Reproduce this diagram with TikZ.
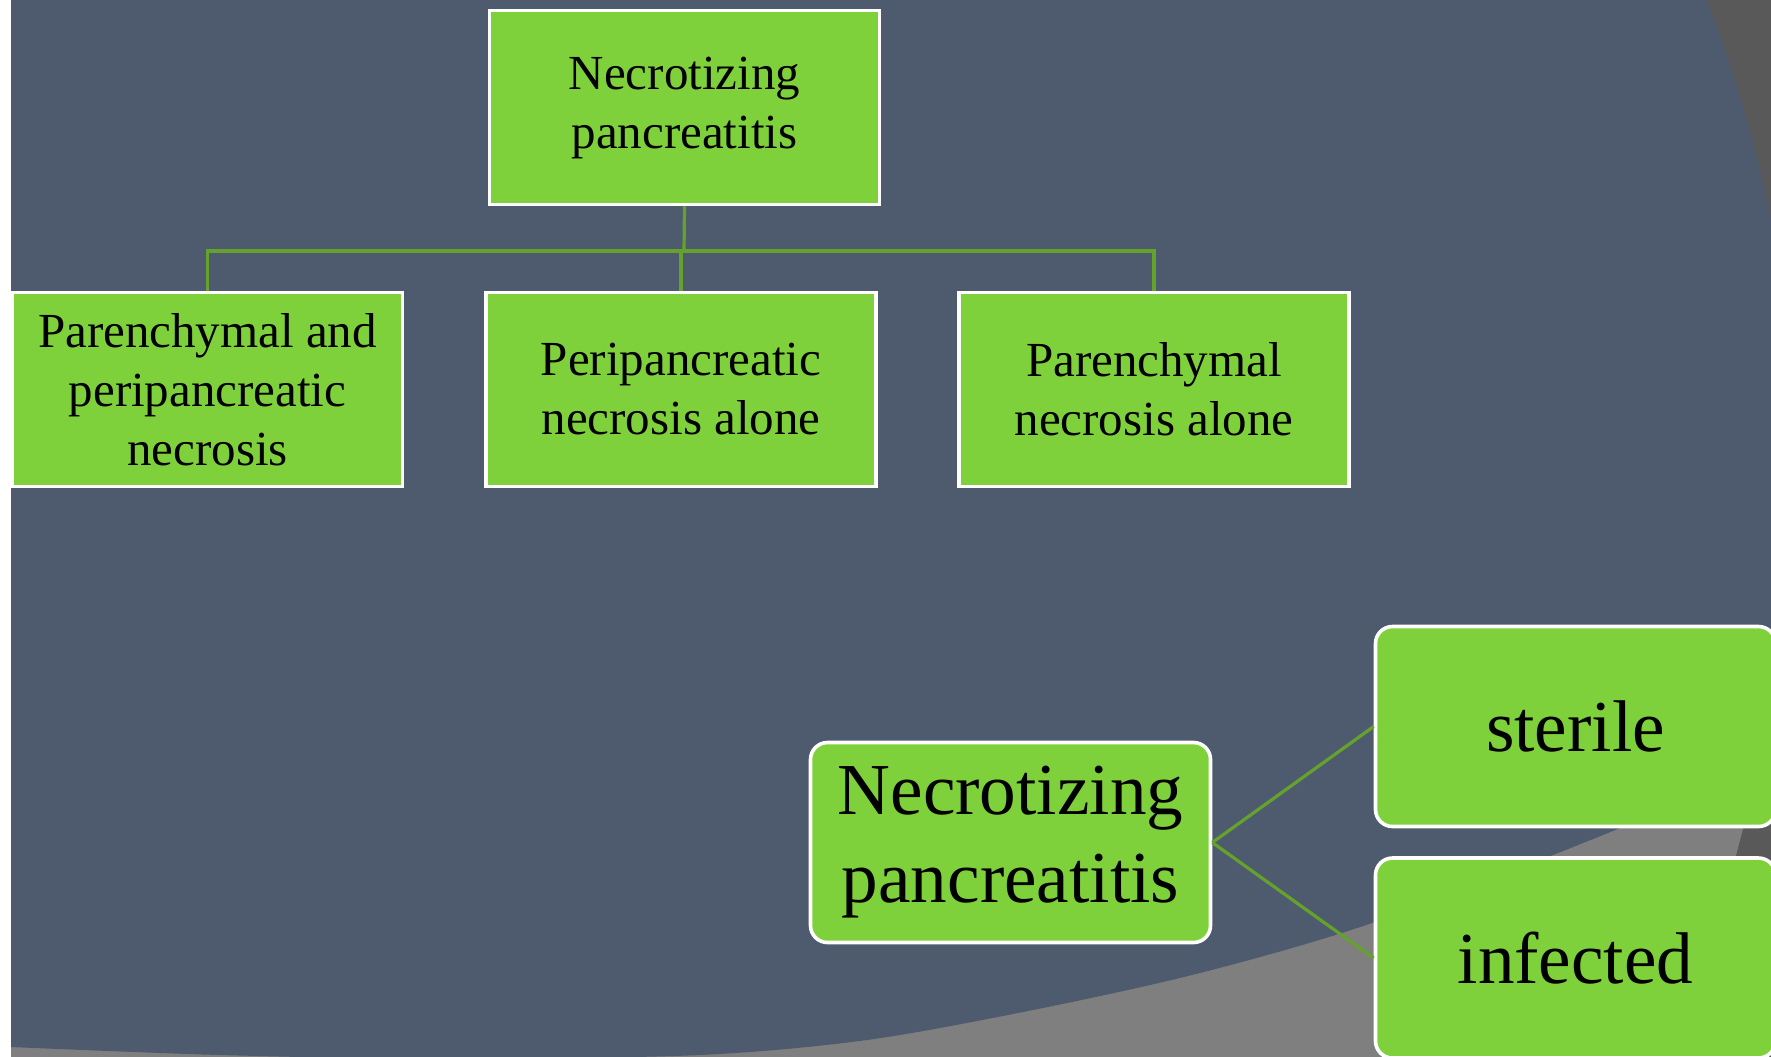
\documentclass[tikz,border=0pt]{standalone}
\usepackage{fontspec}
\setmainfont{Liberation Serif}
\usepackage{tikz}
\usetikzlibrary{positioning}
\definecolor{slate}{HTML}{4E5B6F}
\definecolor{leaf}{HTML}{7FD13B}
\definecolor{stem}{HTML}{65A22C}
\definecolor{ashlight}{HTML}{7F7F7F}
\definecolor{ashdark}{HTML}{595959}

\begin{document}
\begin{tikzpicture}
[x=0.5pt,y=-0.5pt,
box/.style   ={rectangle, draw=white, fill=leaf, line width=1.8pt, minimum width=195pt, minimum height=97pt, align=center, inner sep=2pt, font={\fontsize{24.5}{29.5}\selectfont}},
bigbox/.style={box, rounded corners=8.5pt, minimum width=200pt, minimum height=100pt, font={\fontsize{36.6}{44}\selectfont}},
link/.style  ={draw=stem, line width=1.6pt}]
    \useasboundingbox (0,0) rectangle (1771,1056);
    \clip (0,0) rectangle (1771,1056);
    % slide background
    \fill[white] (0,0) rectangle (1771,1056);
    \fill[ashdark] (11,0) rectangle (1771,1060);
    \fill[ashlight] (11,700) -- (1777,700) -- (1682,1060) -- (11,1060) -- cycle;
    \fill[slate] (11,0) -- (1707,0) .. controls (1745,100) and (1790,250) .. (1800,450) -- (1800,745)
        -- plot[smooth] coordinates {(1800,745) (1620,828) (1375,922) (1200,973) (1033,1010) (867,1040) (700,1055) (450,1059) (220,1055) (11,1047)} -- cycle;
    % upper tree
    \node[box] (necro) at (684.5,107.5) {Necrotizing\\pancreatitis};
    \node[box] (both) at (207.5,389.5) {Parenchymal and\\peripancreatic\\necrosis};
    \node[box] (peri) at (681,389.5) {Peripancreatic\\necrosis alone};
    \node[box] (paren) at (1154,389.5) {Parenchymal\\necrosis alone};
    \coordinate (bus) at (684,251);
    \draw[link] (necro.south) -- (bus);
    \draw[link] (bus) -| (both.north);
    \draw[link] (bus) -| (paren.north);
    \draw[link] (peri.north) -- (peri.north |- bus);
    % lower tree
    \node[bigbox] (necro2) at (1010.5,842.5) {Necrotizing\\pancreatitis};
    \node[bigbox] (sterile) at (1575.5,726.5) {sterile};
    \node[bigbox] (infected) at (1575.5,958) {infected};
    \draw[link] (necro2.east) -- (sterile.west);
    \draw[link] (necro2.east) -- (infected.west);
\end{tikzpicture}
\end{document}
